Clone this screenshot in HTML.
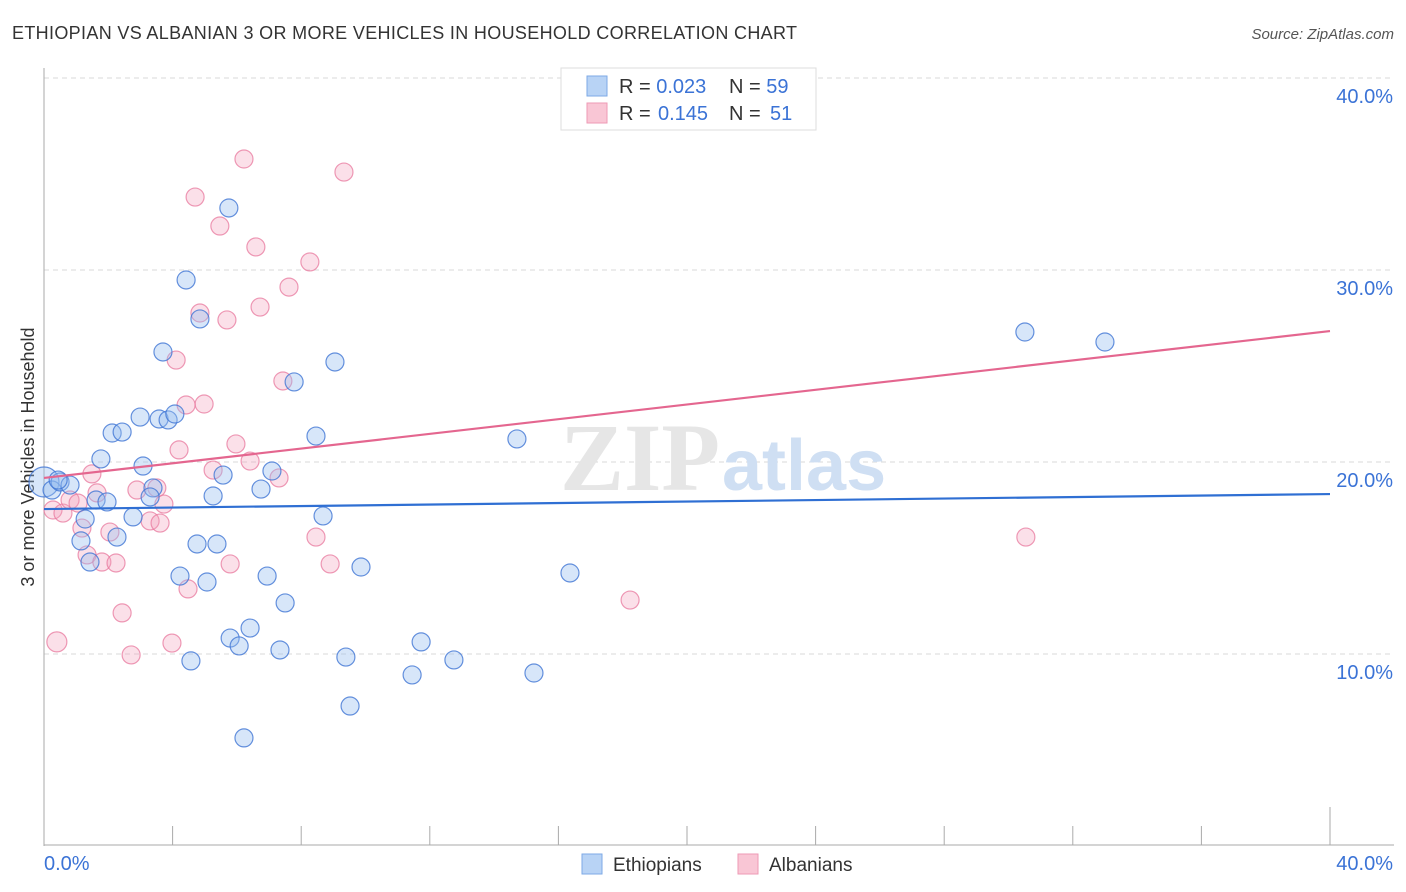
<!DOCTYPE html>
<html><head><meta charset="utf-8"><style>
body{margin:0;background:#fff;font-family:"Liberation Sans",sans-serif;}
svg{display:block}
</style></head><body>
<svg id="chart" width="1406" height="892" xmlns="http://www.w3.org/2000/svg">
<text x="12" y="39" font-size="18" fill="#333" textLength="785" lengthAdjust="spacing">ETHIOPIAN VS ALBANIAN 3 OR MORE VEHICLES IN HOUSEHOLD CORRELATION CHART</text>
<text x="1394" y="39" font-size="15" fill="#555" font-style="italic" text-anchor="end">Source: ZipAtlas.com</text>
<text x="0" y="0" transform="translate(34,457) rotate(-90)" font-size="18" fill="#333" text-anchor="middle">3 or more Vehicles in Household</text>
<g id="grid"></g>
<g><text x="720" y="490" font-size="96" font-family="Liberation Serif,serif" fill="#e6e6e6" text-anchor="end" font-weight="bold">ZIP</text><text x="722" y="490" font-size="72" fill="#cfdff3" font-weight="bold">atlas</text></g>
<g id="axes"></g>
<g id="pts"></g>
<g id="lines"></g>
<g>
<rect x="561" y="68" width="255" height="62" fill="#fff" stroke="#ddd"/>
<rect x="587" y="76" width="20" height="20" fill="#b8d3f5" stroke="#7ea9e6"/>
<rect x="587" y="103" width="20" height="20" fill="#f9c6d5" stroke="#ee9ab5"/>
<text x="619" y="93" font-size="20" fill="#333">R = <tspan fill="#3b73d6">0.023</tspan><tspan x="729">N = </tspan><tspan fill="#3b73d6">59</tspan></text>
<text x="619" y="120" font-size="20" fill="#333">R = <tspan fill="#3b73d6" x="658">0.145</tspan><tspan x="729">N = </tspan><tspan fill="#3b73d6" x="770">51</tspan></text>
</g>
<g>
<rect x="582" y="854" width="20" height="20" fill="#b8d3f5" stroke="#7ea9e6"/>
<text x="613" y="871" font-size="19" fill="#333">Ethiopians</text>
<rect x="738" y="854" width="20" height="20" fill="#f9c6d5" stroke="#ee9ab5"/>
<text x="769" y="871" font-size="19" fill="#333">Albanians</text>
</g>
</svg>
<script>
const ethX=[0.0,0.25,0.5,0.81,0.44,1.62,1.96,1.28,1.15,1.43,1.77,2.12,2.43,2.27,2.77,2.99,3.08,3.39,3.30,3.58,3.86,4.07,3.70,4.42,4.85,5.75,4.76,5.38,5.26,5.57,4.23,5.07,4.57,5.79,6.07,6.41,6.22,6.75,7.09,6.94,7.50,7.34,7.78,8.46,8.68,9.05,9.86,9.39,9.52,11.45,11.73,12.75,14.71,15.24,16.36,30.51,33.00];
const ethY=[18.96,18.54,18.96,18.80,19.06,18.02,17.92,17.03,15.89,14.79,20.16,21.51,21.56,16.09,17.14,22.34,19.79,18.65,18.18,22.24,22.19,22.50,25.73,29.48,27.45,33.23,15.73,15.73,18.23,19.32,14.06,13.75,9.64,10.83,10.42,11.35,5.63,18.59,19.53,14.06,12.66,10.21,24.17,21.35,17.19,25.21,14.53,9.84,7.29,8.91,10.63,9.69,21.20,9.01,14.22,26.77,26.25];
const albX=[0.40,0.28,0.59,0.81,1.06,1.18,1.34,1.49,1.65,1.80,2.05,2.24,2.43,2.71,2.89,3.30,3.51,3.61,3.73,3.98,4.11,4.20,4.42,4.48,4.70,4.85,4.98,5.26,5.47,5.69,5.79,5.97,6.22,6.41,6.59,6.72,7.31,7.43,7.62,8.27,8.46,8.90,9.33,18.23,30.54];
const albY=[10.63,17.50,17.34,18.02,17.86,16.56,15.16,19.38,18.39,14.79,16.35,14.74,12.14,9.95,18.54,16.93,18.65,16.82,17.81,10.57,25.31,20.63,22.97,13.39,33.80,27.76,23.02,19.58,32.29,27.40,14.69,20.94,35.78,20.05,31.20,28.07,19.17,24.22,29.11,30.42,16.09,14.69,35.10,12.81,16.09];
const ethTrend=[17.55,18.33];
const albTrend=[19.17,26.82];
const yTicks=[10,20,30,40];
const yTickLabels=["10.0%","20.0%","30.0%","40.0%"];
const xTicks=[0,4,8,12,16,20,24,28,32,36,40];
const NS="http://www.w3.org/2000/svg";
const sx=v=>44+v*(1286/40);
const sy=v=>846-v*19.2;
function mk(tag,attrs,parent){const e=document.createElementNS(NS,tag);for(const k in attrs)e.setAttribute(k,attrs[k]);document.getElementById(parent).appendChild(e);return e;}
yTicks.forEach((t,i)=>{
 const g=mk('line',{x1:44,x2:1393,y1:sy(t),y2:sy(t),stroke:'#d8d8d8','stroke-dasharray':'5,4'},'grid');
 
 
 const l=mk('text',{x:1393,y:sy(t)+25,'font-size':20,fill:'#3b73d6','text-anchor':'end'},'axes');
 l.textContent=yTickLabels[i];
 
 
});
mk('line',{x1:44,x2:44,y1:68,y2:846,stroke:'#aaa'},'axes');
mk('line',{x1:44,x2:1394,y1:845,y2:845,stroke:'#aaa'},'axes');
xTicks.forEach((t,i)=>{
 const top=(i===0||i===xTicks.length-1)?807:826;
 const tk=mk('line',{x1:sx(t),x2:sx(t),y1:top,y2:845,stroke:'#aaa'},'axes');
 
 
});
const x0=mk('text',{x:44,y:870,'font-size':20,fill:'#3b73d6'},'axes');x0.textContent='0.0%';


const x1=mk('text',{x:1393,y:870,'font-size':20,fill:'#3b73d6','text-anchor':'end'},'axes');x1.textContent='40.0%';


albX.forEach((x,i)=>{
 const c=mk('circle',{cx:sx(x),cy:sy(albY[i]),r:(i===0?10:9),fill:'rgba(244,160,188,0.32)',stroke:'rgba(232,120,158,0.75)','stroke-width':1.2},'pts');
 
 
});
ethX.forEach((x,i)=>{
 const c=mk('circle',{cx:sx(x),cy:sy(ethY[i]),r:(i===0?15:9),fill:'rgba(150,188,238,0.38)',stroke:'rgba(64,118,212,0.8)','stroke-width':1.2},'pts');
 
 
});
const lb=mk('line',{x1:sx(0),x2:sx(40),y1:sy(ethTrend[0]),y2:sy(ethTrend[1]),stroke:'#2f6fd3','stroke-width':2.2},'lines');


const lp=mk('line',{x1:sx(0),x2:sx(40),y1:sy(albTrend[0]),y2:sy(albTrend[1]),stroke:'#e4668f','stroke-width':2.2},'lines');


</script>
</body></html>
